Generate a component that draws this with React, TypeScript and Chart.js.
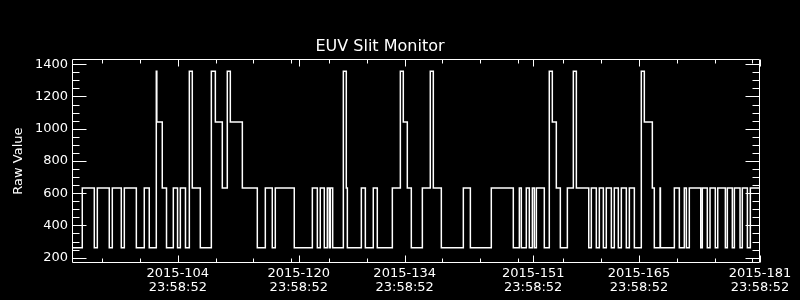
import React, { useEffect, useRef } from "react";
import { Chart, registerables } from "chart.js";

Chart.register(...registerables);

// Start day-of-year of each constant segment (2015) and its raw value
const segmentStartDay = [
  90.0, 91.36, 92.95, 93.35, 94.93, 95.33, 96.52, 96.92, 98.51, 99.56,
  100.22, 101.15, 101.22, 101.94, 102.5, 103.4, 103.96, 104.33, 105.01, 105.52,
  105.91, 106.97, 108.43, 108.96, 109.88, 110.54, 110.94, 112.53, 114.51, 115.57,
  116.49, 116.89, 119.4, 121.79, 122.45, 122.84, 123.37, 123.77, 124.03, 124.17,
  124.48, 125.89, 126.28, 126.42, 128.27, 128.8, 129.85, 130.38, 132.37, 133.43,
  133.82, 134.35, 134.88, 136.34, 137.39, 137.79, 138.85, 141.76, 142.69, 145.46,
  148.37, 149.17, 149.43, 150.09, 150.49, 150.89, 151.15, 151.42, 152.47, 153.13,
  153.53, 154.06, 154.59, 155.52, 156.31, 156.71, 158.35, 158.69, 159.35, 159.75,
  160.28, 160.67, 161.34, 161.73, 162.26, 162.66, 163.32, 163.72, 164.38, 165.3,
  165.7, 166.76, 167.02, 167.78, 167.83, 169.67, 170.33, 170.99, 171.26, 171.65,
  173.16, 173.37, 174.03, 174.39, 175.09, 175.41, 176.42, 176.68, 177.34, 177.61,
  178.36, 178.66, 179.33, 179.72, 181.0,
];

const segmentRawValue = [
  262, 632, 262, 632, 262, 632, 262, 632, 262, 632,
  262, 1356, 1042, 632, 262, 632, 262, 632, 262, 1356,
  632, 262, 1356, 1042, 632, 1356, 1042, 632, 262, 632,
  262, 632, 262, 632, 262, 632, 262, 632, 262, 632,
  262, 1356, 632, 262, 632, 262, 632, 262, 632, 1356,
  1042, 632, 262, 632, 1356, 632, 262, 632, 262, 632,
  262, 632, 262, 632, 262, 632, 262, 632, 262, 1356,
  1042, 632, 262, 632, 1356, 632, 262, 632, 262, 632,
  262, 632, 262, 632, 262, 632, 262, 632, 262, 1356,
  1042, 632, 262, 632, 262, 632, 262, 632, 262, 632,
  262, 632, 262, 632, 262, 632, 262, 632, 262, 632,
  262, 632, 262, 632, 632,
];

const xMajorTicks = [104, 120, 134, 151, 165, 181];
const xTickLabels = [
  ["2015-104", "23:58:52"],
  ["2015-120", "23:58:52"],
  ["2015-134", "23:58:52"],
  ["2015-151", "23:58:52"],
  ["2015-165", "23:58:52"],
  ["2015-181", "23:58:52"],
];
const xMinorTicks = [94, 99, 104, 109, 114, 119, 124, 129, 134, 139, 144, 149, 155, 160, 165, 170, 175, 180];
const yMajorTicks = [200, 400, 600, 800, 1000, 1200, 1400];
const yMinorTicks = [250, 300, 350, 450, 500, 550, 650, 700, 750, 850, 900, 950, 1050, 1100, 1150, 1250, 1300, 1350];

const X_MIN = 90;
const X_MAX = 181;
const Y_MIN = 167;
const Y_MAX = 1431;

const FONT = "'DejaVu Sans', sans-serif";

const framePlugin = {
  id: "idlFrame",
  beforeDraw(chart: any) {
    const { ctx, width, height } = chart;
    ctx.save();
    ctx.fillStyle = "#000";
    ctx.fillRect(0, 0, width, height);
    ctx.restore();
  },
  afterDatasetsDraw(chart: any) {
    const { ctx, chartArea: a, scales } = chart;
    const L = Math.round(a.left) + 0.5;
    const R = Math.round(a.right) - 0.5;
    const T = Math.round(a.top) + 0.5;
    const B = Math.round(a.bottom) - 0.5;
    ctx.save();
    ctx.strokeStyle = "#fff";
    ctx.lineWidth = 1;
    ctx.beginPath();
    ctx.rect(L, T, R - L, B - T);
    const xt = (v: number, len: number) => {
      const p = Math.round(scales.x.getPixelForValue(v)) + 0.5;
      ctx.moveTo(p, B);
      ctx.lineTo(p, B - len);
      ctx.moveTo(p, T);
      ctx.lineTo(p, T + len);
    };
    const yt = (v: number, len: number) => {
      const p = Math.round(scales.y.getPixelForValue(v)) + 0.5;
      ctx.moveTo(L, p);
      ctx.lineTo(L + len, p);
      ctx.moveTo(R, p);
      ctx.lineTo(R - len, p);
    };
    xMinorTicks.forEach((v) => xt(v, 4));
    xMajorTicks.forEach((v) => xt(v, 7));
    yMinorTicks.forEach((v) => yt(v, 7));
    yMajorTicks.forEach((v) => yt(v, 14));
    ctx.stroke();
    ctx.restore();
  },
};

export default function App() {
  const canvasRef = useRef<HTMLCanvasElement | null>(null);

  useEffect(() => {
    const canvas = canvasRef.current;
    if (!canvas) return;
    const points = segmentStartDay.map((d, i) => ({ x: d, y: segmentRawValue[i] }));
    const chart = new Chart(canvas, {
      type: "line",
      data: {
        datasets: [
          {
            data: points,
            stepped: true,
            borderColor: "#ffffff",
            borderWidth: 1.5,
            pointRadius: 0,
            fill: false,
            tension: 0,
          },
        ],
      },
      options: {
        animation: false,
        responsive: false,
        devicePixelRatio: 1,
        layout: { padding: { left: 0, right: 40, top: 0, bottom: 0 } },
        plugins: {
          legend: { display: false },
          tooltip: { enabled: false },
          title: {
            display: true,
            text: "EUV Slit Monitor",
            color: "#ffffff",
            font: { family: FONT, size: 16, weight: "normal", lineHeight: 1.2 },
            padding: { top: 37, bottom: 3 },
          },
        },
        scales: {
          x: {
            type: "linear",
            position: "bottom",
            min: X_MIN,
            max: X_MAX,
            grid: { display: false, drawTicks: false },
            border: { display: false },
            afterBuildTicks: (scale: any) => {
              scale.ticks = xMajorTicks.map((v) => ({ value: v }));
            },
            afterFit: (scale: any) => {
              scale.height = 37;
            },
            ticks: {
              color: "#ffffff",
              autoSkip: false,
              maxRotation: 0,
              minRotation: 0,
              padding: 4,
              font: { family: FONT, size: 13, lineHeight: 1.05 },
              callback: (value: any) => {
                const i = xMajorTicks.indexOf(Number(value));
                return i >= 0 ? xTickLabels[i] : "";
              },
            },
          },
          y: {
            type: "linear",
            position: "left",
            min: Y_MIN,
            max: Y_MAX,
            grid: { display: false, drawTicks: false },
            border: { display: false },
            afterBuildTicks: (scale: any) => {
              scale.ticks = yMajorTicks.map((v) => ({ value: v }));
            },
            afterFit: (scale: any) => {
              scale.width = 72;
            },
            ticks: {
              color: "#ffffff",
              padding: 4,
              font: { family: FONT, size: 13 },
              callback: (value: any) => String(value),
            },
            title: {
              display: true,
              text: "Raw Value",
              color: "#ffffff",
              font: { family: FONT, size: 13 },
              padding: { top: 11, bottom: 0 },
            },
          },
        },
      },
      plugins: [framePlugin],
    } as any);
    return () => chart.destroy();
  }, []);

  return (
    <div
      style={{
        position: "fixed",
        left: 0,
        top: 0,
        width: 800,
        height: 300,
        background: "#000",
      }}
    >
      <canvas ref={canvasRef} width={800} height={300} style={{ width: 800, height: 300, display: "block" }} />
    </div>
  );
}
